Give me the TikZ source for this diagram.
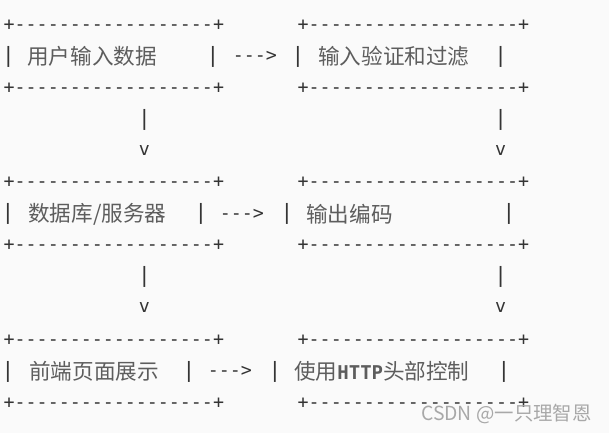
\documentclass[tikz,border=0pt]{standalone}
\usepackage{fontspec}
\setmonofont{DejaVu Sans Mono}
\newfontfamily\cjkfont{Noto Sans CJK SC}
\definecolor{codegray}{RGB}{52,52,52}
\definecolor{pagebg}{RGB}{250,250,250}
\definecolor{markgray}{RGB}{168,168,168}
\tikzset{
  ascii/.style={font=\fontsize{18.3}{18.3}\selectfont\ttfamily, text=codegray, inner sep=0pt},
  bar/.style={ascii, font=\fontsize{21}{21}\selectfont\ttfamily},
  cjktext/.style={font=\fontsize{21.6}{21.6}\selectfont\cjkfont, text=codegray!80, inner sep=0pt},
  watermark/.style={font=\fontsize{19.4}{19.4}\selectfont\cjkfont, text=markgray, inner sep=0pt}
}
\begin{document}
\begin{tikzpicture}[x=1pt,y=-1pt]
\fill[pagebg](0,0) rectangle (609,433);
\useasboundingbox (0,0) rectangle (609,433);
% first row of boxes
\node[ascii] (inputtop) at (3.5,25)[right]{+------------------+};
\node[ascii] (checktop) at (297.5,25)[right]{+-------------------+};
\node[bar] (inputl) at (8.5,56.5){|};
\node[cjktext] (input) at (27,56.5)[right]{用户输入数据};
\node[bar] (inputr) at (213,56.5){|};
\node[ascii] (arrowa) at (232.6,56.5)[right]{--->};
\node[bar] (checkl) at (298,56.5){|};
\node[cjktext] (check) at (318,56.5)[right]{输入验证和过滤};
\node[bar] (checkr) at (500.7,56.5){|};
\node[ascii] (inputbot) at (3.5,88)[right]{+------------------+};
\node[ascii] (checkbot) at (297.5,88)[right]{+-------------------+};
% down to the second row
\node[bar] (downa) at (144.5,119.5){|};
\node[ascii] (downav) at (144.5,150){v};
\node[bar] (downb) at (500.7,119.5){|};
\node[ascii] (downbv) at (500.7,150){v};
% second row of boxes
\node[ascii] (storetop) at (3.5,182.5)[right]{+------------------+};
\node[ascii] (encodetop) at (297.5,182.5)[right]{+-------------------+};
\node[bar] (storel) at (8,214){|};
\node[cjktext] (store) at (28,214)[right]{数据库/服务器};
\node[bar] (storer) at (201,214){|};
\node[ascii] (arrowb) at (219.6,214)[right]{--->};
\node[bar] (encodel) at (287,214){|};
\node[cjktext] (encode) at (306,214)[right]{输出编码};
\node[bar] (encoder) at (509,214){|};
\node[ascii] (storebot) at (3.5,245.5)[right]{+------------------+};
\node[ascii] (encodebot) at (297.5,245.5)[right]{+-------------------+};
% down to the third row
\node[bar] (downc) at (144.5,277){|};
\node[ascii] (downcv) at (144.5,307.5){v};
\node[bar] (downd) at (500.7,277){|};
\node[ascii] (downdv) at (500.7,307.5){v};
% third row of boxes
\node[ascii] (pagetop) at (3.5,340)[right]{+------------------+};
\node[ascii] (headertop) at (297.5,340)[right]{+-------------------+};
\node[bar] (pagel) at (8,371.5){|};
\node[cjktext] (page) at (29,371.5)[right]{前端页面展示};
\node[bar] (pager) at (189,371.5){|};
\node[ascii] (arrowc) at (207.6,371.5)[right]{--->};
\node[bar] (headerl) at (275,371.5){|};
\node[cjktext] (header) at (294,371.5)[right]{使用{\fontsize{19}{19}\selectfont\ttfamily\bfseries HTTP}头部控制};
\node[bar] (headerr) at (504,371.5){|};
\node[ascii] (pagebot) at (3.5,403)[right]{+------------------+};
\node[ascii] (headerbot) at (297.5,403)[right]{+-------------------+};
\node[watermark] (mark) at (421,414)[right]{CSDN @一只理智恩};
\end{tikzpicture}
\end{document}
